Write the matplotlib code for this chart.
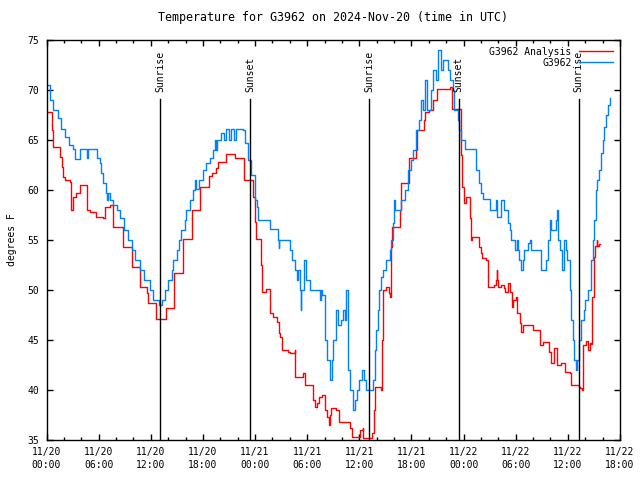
import datetime as dt
import matplotlib
matplotlib.use("Agg")
import matplotlib.pyplot as plt
import matplotlib.dates as mdates

# hours after 2024-11-20 00:00 UTC, temperature in F
obs_hours = [0.0, 0.4, 0.8, 1.36, 1.63, 2.1, 2.6, 3.1, 3.3, 3.6, 3.9, 4.6, 4.7, 4.75, 5.6, 5.8,
             6.15, 6.3, 6.5, 6.8, 7.0, 7.1, 7.3, 7.7, 8.1, 8.45, 8.9, 9.4, 9.8, 10.2, 10.75, 11.2,
             11.9, 12.3, 12.9, 13.3, 13.6, 14.0, 14.4, 14.6, 15.0, 15.3, 15.5, 15.9, 16.1, 16.5,
             16.9, 17.1, 17.2, 17.6, 18.0, 18.4, 18.8, 19.2, 19.4, 19.5, 19.6, 20.1, 20.4, 20.7,
             21.0, 21.2, 21.6, 21.8, 22.6, 22.8, 23.2, 23.5, 24.0, 24.2, 24.35, 25.5, 25.7, 26.5,
             26.6, 26.7, 26.8, 27.8, 28.0, 28.2, 28.6, 28.8, 29.0, 29.2, 29.25, 29.3, 29.6, 29.9,
             30.3, 31.4, 31.5, 31.6, 31.7, 32.0, 32.3, 32.6, 32.8, 33.0, 33.3, 33.6, 33.9, 34.1,
             34.3, 34.5, 34.7, 34.9, 35.3, 35.5, 35.7, 36.0, 36.3, 36.5, 36.8, 37.4, 37.6, 37.8,
             37.95, 38.1, 38.3, 38.5, 38.7, 39.1, 39.5, 39.7, 39.9, 40.0, 40.1, 40.4, 40.8, 41.2,
             41.6, 42.0, 42.2, 42.55, 42.9, 43.1, 43.3, 43.6, 43.8, 44.3, 44.5, 44.8, 45.1, 45.4,
             45.6, 46.0, 46.2, 46.4, 46.75, 46.95, 47.3, 47.5, 47.7, 48.2, 49.25, 49.45, 49.75,
             50.0, 50.2, 50.8, 51.0, 51.55, 51.7, 51.9, 52.3, 52.7, 53.1, 53.3, 53.5, 53.9, 54.1,
             54.3, 54.4, 54.6, 54.8, 55.0, 55.4, 55.6, 55.8, 56.7, 56.9, 57.3, 57.5, 57.7, 57.9,
             58.1, 58.6, 58.8, 58.9, 59.1, 59.3, 59.5, 59.6, 59.8, 59.95, 60.2, 60.4, 60.55, 60.7,
             60.9, 61.1, 61.3, 61.5, 61.8, 62.0, 62.3, 62.7, 62.9, 63.05, 63.2, 63.4, 63.6, 63.8,
             64.0, 64.2, 64.4, 64.6, 64.8]
obs_temp = [70.5, 69.0, 68.0, 67.2, 66.1, 65.3, 64.5, 64.1, 63.1, 63.1, 64.1, 64.1, 63.2, 64.1, 64.1, 63.2,
            62.7, 61.7, 60.7, 59.7, 59.0, 59.7, 59.0, 58.5, 58.0, 57.2, 56.0, 55.0, 54.0, 53.0, 52.0, 51.0,
            50.0, 49.0, 48.5, 49.0, 50.0, 51.0, 52.0, 53.0, 54.0, 55.0, 56.0, 57.0, 58.0, 59.0,
            60.0, 61.0, 60.1, 61.0, 62.0, 62.7, 63.2, 64.0, 65.0, 64.0, 65.0, 65.7, 65.0, 66.1,
            65.0, 66.1, 65.0, 66.1, 66.0, 64.7, 63.0, 61.5, 59.0, 58.3, 57.0, 57.0, 56.1, 56.1,
            55.0, 54.2, 55.0, 55.0, 54.0, 53.0, 52.0, 51.0, 52.0, 50.0, 48.0, 50.0, 53.0, 51.0,
            50.0, 50.0, 49.0, 50.0, 49.5, 45.0, 43.0, 41.0, 43.0, 45.0, 48.0, 46.5, 47.0, 48.0,
            47.0, 50.0, 42.0, 40.0, 38.0, 39.0, 40.0, 41.0, 42.0, 41.0, 40.0, 40.0, 41.0, 44.0,
            46.0, 48.0, 50.0, 51.3, 52.0, 53.0, 54.0, 55.0, 56.7, 59.0, 58.0, 58.0, 59.0, 60.0,
            62.0, 63.0, 64.0, 66.0, 67.0, 69.0, 68.0, 71.0, 68.0, 70.0, 72.0, 71.0, 74.0, 72.0,
            73.0, 73.0, 72.0, 71.0, 70.0, 68.0, 67.0, 66.0, 65.0, 64.1, 64.1, 62.0, 60.7,
            59.7, 59.1, 59.1, 58.0, 58.0, 59.0, 57.3, 59.0, 58.0, 56.7, 56.0, 55.0, 54.0, 55.0,
            54.0, 53.0, 52.0, 53.0, 54.0, 54.7, 55.0, 54.0, 54.0, 52.0, 52.0, 53.0, 55.0, 57.0,
            56.0, 57.0, 58.0, 55.0, 54.0, 52.0, 54.0, 55.0, 54.0, 53.0, 50.0, 47.0, 45.0, 43.0,
            42.0, 43.0, 45.0, 47.0, 48.0, 49.0, 50.0, 53.0, 55.0, 57.0, 60.0, 61.0, 62.0, 63.7,
            65.0, 66.3, 67.5, 68.5, 69.2]

ana_hours = [0.0, 0.6, 0.7, 1.55, 1.75, 1.9, 2.1, 2.7, 2.8, 3.0, 3.2, 3.45, 3.8, 4.5, 4.7, 5.0,
             5.7, 6.5, 6.7, 7.3, 7.6, 8.6, 8.75, 9.7, 9.8, 10.75, 10.8, 11.6, 11.7, 12.6, 12.65,
             13.6, 13.7, 14.6, 14.7, 15.65, 15.7, 16.7, 16.75, 17.6, 17.7, 18.6, 18.65, 19.0, 19.5,
             19.75, 20.6, 20.7, 21.6, 21.7, 22.6, 22.7, 23.6, 23.8, 24.0, 24.1, 24.6, 24.7, 24.75,
             25.1, 25.3, 25.7, 25.75, 26.1, 26.5, 26.7, 26.9, 27.15, 27.8, 28.0, 28.6, 28.65, 29.5,
             29.8, 30.5, 30.7, 30.9, 31.1, 31.4, 31.7, 32.0, 32.3, 32.5, 32.6, 32.75, 33.3, 33.7,
             34.7, 34.9, 35.2, 36.0, 36.1, 36.4, 36.45, 37.3, 37.5, 37.65, 37.8, 38.5, 38.55, 38.6,
             38.7, 39.1, 39.4, 39.5, 39.7, 39.8, 40.6, 40.7, 40.8, 41.7, 41.75, 42.55, 42.6, 43.5,
             43.6, 44.0, 44.5, 44.9, 46.4, 46.7, 47.5, 47.7, 47.85, 48.0, 48.3, 48.6, 48.7, 48.8,
             49.0, 49.6, 49.75, 50.0, 50.1, 50.6, 50.8, 51.3, 51.5, 51.7, 51.8, 51.9, 52.0, 52.3,
             52.6, 52.8, 53.1, 53.3, 53.6, 53.7, 54.05, 54.2, 54.5, 54.6, 54.8, 55.8, 56.0, 56.6,
             56.8, 57.1, 57.7, 57.8, 58.1, 58.3, 58.4, 58.7, 58.8, 59.1, 59.2, 59.6, 59.7, 60.2,
             60.4, 61.15, 61.3, 61.45, 61.6, 61.7, 61.75, 62.1, 62.3, 62.5, 62.7, 62.8, 63.0, 63.1,
             63.3, 63.4, 63.6, 63.7]
ana_temp = [67.8, 66.0, 64.3, 63.3, 62.3, 61.3, 61.0, 60.8, 58.0, 59.3, 59.3, 59.7, 60.5, 60.5, 58.0, 57.8,
            57.3, 57.2, 58.3, 58.5, 56.3, 56.3, 54.3, 54.3, 52.3, 51.3, 50.3, 49.7, 48.7, 48.7, 47.1,
            47.1, 48.2, 48.2, 51.7, 51.7, 55.1, 55.1, 58.0, 58.0, 60.3, 60.3, 61.4, 61.7, 62.2,
            62.8, 62.8, 63.6, 63.6, 63.2, 63.2, 61.0, 61.0, 59.3, 56.8, 55.1, 55.1, 52.5, 49.8,
            49.8, 50.1, 50.0, 47.7, 47.3, 46.8, 45.7, 45.3, 44.0, 43.8, 43.7, 44.0, 41.3, 41.7,
            40.5, 40.5, 39.0, 38.3, 38.7, 39.3, 39.5, 38.0, 37.3, 36.5, 37.5, 38.2, 38.0, 36.8,
            36.8, 36.2, 35.3, 35.3, 36.0, 36.2, 35.2, 35.2, 35.7, 38.0, 40.3, 40.3, 40.0, 45.0,
            50.0, 50.3, 49.7, 49.3, 54.3, 56.3, 56.3, 58.0, 60.7, 60.7, 63.2, 64.0, 66.0, 67.0,
            67.8, 68.0, 69.0, 70.1, 70.3, 68.1, 68.1, 63.5, 60.3, 58.7, 59.3, 59.3, 57.2, 55.0,
            55.3, 55.3, 54.3, 53.7, 53.2, 53.0, 50.3, 50.3, 50.5, 51.0, 52.0, 51.0, 50.3, 50.5,
            50.2, 49.8, 50.7, 49.8, 48.3, 49.0, 49.3, 47.7, 46.7, 45.8, 46.5, 46.5, 46.0, 46.0,
            44.5, 44.8, 44.8, 43.8, 42.7, 42.7, 44.2, 44.2, 42.5, 42.5, 42.7, 42.7, 41.8, 41.7,
            40.5, 40.5, 40.3, 40.2, 40.0, 42.7, 44.5, 44.9, 44.0, 44.7, 44.6, 49.3, 53.3, 54.4,
            55.0, 54.4, 54.6, 54.6]

sun_hours = [13.08, 23.47, 37.1, 47.45, 61.24]
sun_labels = ["Sunrise", "Sunset", "Sunrise", "Sunset", "Sunrise"]

start = dt.datetime(2024, 11, 20, 0, 0)
to_time = lambda hs: [start + dt.timedelta(hours=h) for h in hs]

plt.rcParams['font.family'] = 'DejaVu Sans Mono'
plt.rcParams['font.size'] = 7

fig = plt.figure(figsize=(6.4, 4.8), dpi=100)
ax = fig.add_axes([46.5 / 640, 40 / 480, (620 - 46.5) / 640, 400 / 480])

ax.plot(to_time(ana_hours), ana_temp, color='#ff0000', lw=1.0, drawstyle='steps-post',
        label='G3962 Analysis')
ax.plot(to_time(obs_hours), obs_temp, color='#0080ff', lw=1.0, drawstyle='steps-post',
        label='G3962')

for h, lab in zip(sun_hours, sun_labels):
    t = start + dt.timedelta(hours=h)
    ax.plot([t, t], [35, 69.1], color='black', lw=1.0)
    ax.text(t, 69.8, lab, rotation=90, ha='center', va='bottom')

ax.set_xlim(start, start + dt.timedelta(hours=66))
ax.set_ylim(35, 75)
ax.set_yticks(range(35, 76, 5))
ax.xaxis.set_major_locator(mdates.HourLocator(byhour=[0, 6, 12, 18]))
ax.xaxis.set_minor_locator(mdates.HourLocator(interval=2))
ax.xaxis.set_major_formatter(mdates.DateFormatter('%m/%d\n%H:%M'))
for lbl in ax.get_xticklabels():
    lbl.set_linespacing(1.4)

ax.tick_params(which='both', direction='in', top=True, right=True, width=1.0)
ax.tick_params(which='major', length=4, pad=5)
ax.tick_params(which='minor', length=2.5)
for s in ax.spines.values():
    s.set_linewidth(1.0)

ax.set_ylabel('degrees F', labelpad=8)
ax.set_title('Temperature for G3962 on 2024-Nov-20 (time in UTC)', pad=14)

ax.legend(loc='upper right', markerfirst=False, frameon=False, handlelength=3.5,
          borderaxespad=0.3, labelspacing=0.1, handletextpad=0.8)

fig.savefig('out.png', dpi=100)
